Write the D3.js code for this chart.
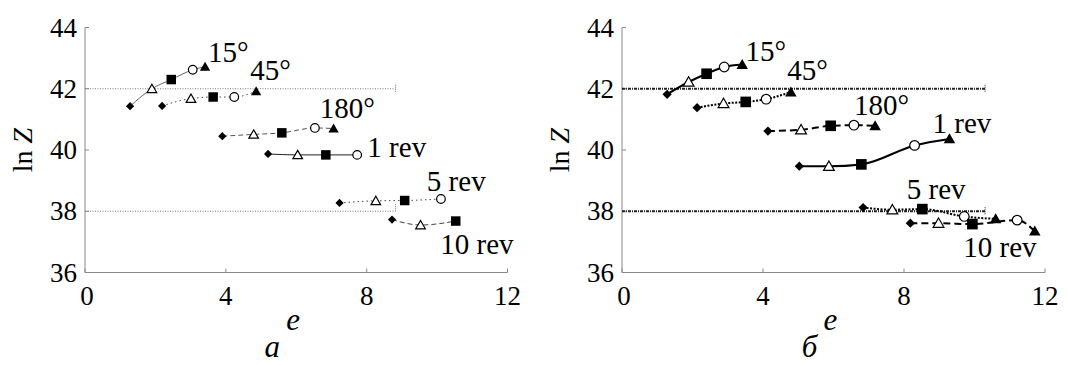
<!DOCTYPE html>
<html lang="en">
<head>
<meta charset="UTF-8">
<title>ln Z vs e</title>
<script src="https://d3js.org/d3.v7.min.js"></script>
<style>
  body { margin: 0; background: #fff; }
  svg text { font-family: "Liberation Serif", "Times New Roman", Tinos, Times, "DejaVu Serif", "Noto Serif", serif; }
  .axis-line { stroke: #888; stroke-width: 1; fill: none; }
  .tick-lab { font-size: 27px; fill: #000; }
  .note { font-size: 29px; fill: #000; }
</style>
</head>
<body>
<svg id="chart" width="1068" height="365"></svg>
<script>
// ---- data ----
const seriesNames = ["15°", "45°", "180°", "1 rev", "5 rev", "10 rev"];
const xTicks = [0, 4, 8, 12];
const yTicks = [36, 38, 40, 42, 44];
const refLevels = [42, 38];

// panel a
const xA = [
  [1.28, 1.90, 2.45, 3.06, 3.41],
  [2.19, 3.01, 3.64, 4.24, 4.86],
  [3.90, 4.79, 5.59, 6.53, 7.06],
  [5.20, 6.04, 6.84, 7.73],
  [7.23, 8.26, 9.08, 10.11],
  [8.72, 9.53, 10.53]
];
const yA = [
  [41.43, 42.00, 42.30, 42.62, 42.72],
  [41.44, 41.68, 41.73, 41.73, 41.92],
  [40.45, 40.51, 40.56, 40.72, 40.70],
  [39.87, 39.84, 39.84, 39.84],
  [38.27, 38.34, 38.35, 38.40],
  [37.73, 37.55, 37.68]
];
// panel б
const xB = [
  [1.28, 1.89, 2.40, 2.90, 3.41],
  [2.13, 2.88, 3.51, 4.09, 4.79],
  [4.14, 5.08, 5.92, 6.58, 7.18],
  [5.03, 5.87, 6.79, 8.30, 9.29],
  [6.84, 7.67, 8.52, 9.71, 10.60],
  [8.18, 8.98, 9.94, 11.21, 11.71]
];
const yB = [
  [41.82, 42.22, 42.49, 42.71, 42.79],
  [41.38, 41.52, 41.57, 41.66, 41.89],
  [40.62, 40.66, 40.79, 40.81, 40.79],
  [39.47, 39.47, 39.53, 40.15, 40.36],
  [38.12, 38.05, 38.07, 37.83, 37.75],
  [37.61, 37.61, 37.58, 37.71, 37.35]
];

// where the series names sit (data units, left edge / baseline)
const labelPosA = [[3.49, 42.86], [4.69, 42.27], [6.67, 41.03], [8.02, 39.78], [9.71, 38.65], [10.09, 36.59]];
const labelPosB = [[3.50, 42.92], [4.69, 42.27], [6.58, 41.14], [8.81, 40.55], [8.08, 38.39], [9.68, 36.51]];

// marker order along each curve
const markerKinds = ["diamond", "openTri", "square", "circle", "tri"];

const svg = d3.select("#chart");

function marker(g, kind, cx, cy, big) {
  const k = big ? 1.12 : 1;
  if (kind === "diamond") {
    g.append("path").attr("d", d3.symbol(d3.symbolSquare, 34 * k * k)())
      .attr("transform", `translate(${cx},${cy}) rotate(45)`).attr("fill", "#000");
  } else if (kind === "square") {
    g.append("path").attr("d", d3.symbol(d3.symbolSquare, 90 * k * k)())
      .attr("transform", `translate(${cx},${cy})`).attr("fill", "#000");
  } else if (kind === "circle") {
    g.append("circle").attr("cx", cx).attr("cy", cy).attr("r", 4.3 * k)
      .attr("fill", "#fff").attr("stroke", "#000").attr("stroke-width", 1.2);
  } else if (kind === "openTri") {
    g.append("path").attr("d", d3.symbol(d3.symbolTriangle, 40 * k * k)())
      .attr("transform", `translate(${cx},${cy + 1})`)
      .attr("fill", "#fff").attr("stroke", "#000").attr("stroke-width", 1.2);
  } else {
    g.append("path").attr("d", d3.symbol(d3.symbolTriangle, 46 * k * k)())
      .attr("transform", `translate(${cx},${cy + 1})`).attr("fill", "#000");
  }
}

function panel(opt) {
  const x = d3.scaleLinear().domain([0, 12]).range([opt.left, opt.right]);
  const y = d3.scaleLinear().domain([36, 44]).range([272.5, 27.5]);
  const g = svg.append("g");

  // axes (left + bottom only, ticks pointing inward)
  g.append("path").attr("class", "axis-line")
    .attr("d", `M${x(0)},${y(44)}V${y(36)}H${x(12)}`);
  xTicks.forEach(t => {
    g.append("line").attr("class", "axis-line")
      .attr("x1", x(t)).attr("x2", x(t)).attr("y1", y(36)).attr("y2", y(36) - 4);
    g.append("text").attr("class", "tick-lab").attr("x", x(t) + (t === 0 ? 2 : 0)).attr("y", y(36) + 32)
      .attr("text-anchor", "middle").text(t);
  });
  yTicks.forEach(t => {
    g.append("line").attr("class", "axis-line")
      .attr("x1", x(0)).attr("x2", x(0) + 4).attr("y1", y(t)).attr("y2", y(t));
    g.append("text").attr("class", "tick-lab").attr("x", x(0) - 8).attr("y", y(t) + 9)
      .attr("text-anchor", "end").text(t);
  });

  // y label
  const yl = g.append("text").attr("transform", `translate(${x(0) - 53},${y(40)}) rotate(-90)`)
    .attr("text-anchor", "middle").attr("font-size", 28);
  yl.append("tspan").text("ln ");
  yl.append("tspan").attr("font-style", "italic").text("Z");

  // x label and panel letter
  g.append("text").attr("x", (x(0) + x(12)) / 2 - 3).attr("y", 330)
    .attr("text-anchor", "middle").attr("font-style", "italic").attr("font-size", 31).text("e");
  g.append("text").attr("x", (x(0) + x(12)) / 2 - 24).attr("y", 357)
    .attr("text-anchor", "middle").attr("font-style", "italic").attr("font-size", 31).text(opt.letter);

  // reference levels
  refLevels.forEach(v => {
    g.append("line").attr("x1", x(0)).attr("x2", x(opt.refEnd)).attr("y1", y(v)).attr("y2", y(v))
      .attr("stroke", opt.refColor).attr("stroke-width", opt.refWidth).attr("stroke-dasharray", opt.refDash);
    g.append("line").attr("x1", x(opt.refEnd)).attr("x2", x(opt.refEnd))
      .attr("y1", y(v) - (opt.bracket && v === 38 ? 7 : 4)).attr("y2", y(v) + (opt.bracket && v === 38 ? 0 : 4))
      .attr("stroke", opt.refColor).attr("stroke-width", 1).attr("stroke-dasharray", "1,1");
  });

  // curves
  const line = d3.line().x(d => x(d[0])).y(d => y(d[1])).curve(d3.curveMonotoneX);
  opt.xs.forEach((xs, i) => {
    const pts = xs.map((v, j) => [v, opt.ys[i][j]]);
    g.append("path").attr("d", line(pts)).attr("fill", "none")
      .attr("stroke", opt.lineColor[i]).attr("stroke-width", opt.lineWidth)
      .attr("stroke-dasharray", opt.dash[i]);
    pts.forEach((p, j) => marker(g, markerKinds[j], x(p[0]), y(p[1]), opt.big));
    g.append("text").attr("class", "note").attr("x", x(opt.labels[i][0])).attr("y", y(opt.labels[i][1]))
      .text(seriesNames[i]);
  });
}

panel({
  left: 85, right: 507.5, letter: "а", xs: xA, ys: yA, labels: labelPosA,
  refEnd: 8.82, refColor: "#777", refWidth: 1, refDash: "1,1.5", bracket: true,
  lineWidth: 1, lineColor: ["#666", "#444", "#555", "#222", "#444", "#444"],
  dash: [null, "1.5,3", "5,3", null, "1.5,3", "5,3"], big: false
});
panel({
  left: 622, right: 1045, letter: "б", xs: xB, ys: yB, labels: labelPosB,
  refEnd: 10.3, refColor: "#222", refWidth: 1.8, refDash: "3,1,1,1", bracket: false,
  lineWidth: 2, lineColor: ["#000", "#000", "#000", "#000", "#000", "#000"],
  dash: [null, "2,1.5", "7,4", null, "2,1.5", "7,4"], big: true
});
</script>
</body>
</html>
